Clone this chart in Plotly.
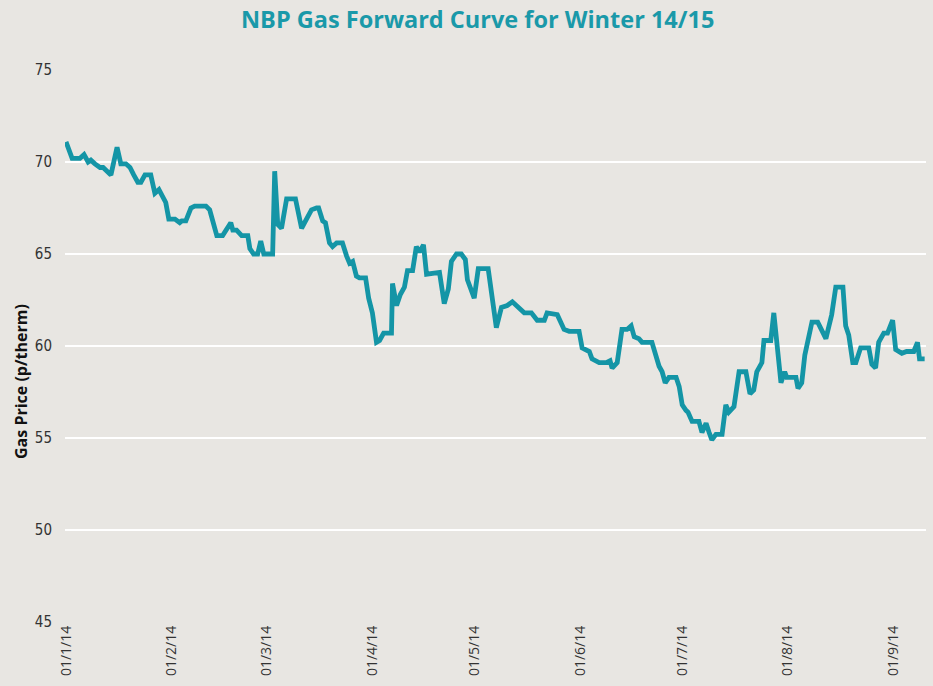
import pandas as pd
import plotly.graph_objects as go

# Days after 1 Jan 2014 at which each price was read
day_offset = [
    0.0, 1.8, 4.1, 5.3, 6.5, 7.3, 8.5, 10.0, 10.9, 12.0, 13.2, 15.0, 16.1, 17.6, 18.8,
    19.9, 21.1, 22.0, 23.2, 24.9, 26.1, 27.3, 28.7, 29.3, 30.2, 32.0, 33.4, 34.0, 35.2,
    36.7, 37.8, 41.1, 42.2, 44.3, 46.0, 48.4, 49.0, 50.1, 51.6, 53.4, 54.0, 55.1, 56.3,
    57.2, 58.1, 60.7, 61.3, 62.2, 63.3, 64.8, 65.7, 67.4, 69.2, 70.4, 71.0, 72.1, 73.6,
    74.2, 75.4, 76.2, 77.4, 78.3, 79.5, 81.2, 82.4, 83.3, 84.2, 85.3, 86.2, 88.0, 88.9,
    90.0, 91.2, 92.1, 93.3, 95.6, 95.9, 97.1, 98.2, 99.4, 100.3, 101.8, 102.9, 103.8,
    105.0, 105.9, 109.7, 111.1, 112.3, 113.2, 114.7, 116.1, 117.3, 117.9, 119.9, 121.1,
    124.0, 126.4, 127.9, 129.6, 131.1, 133.1, 134.6, 136.7, 138.4, 140.5, 141.3, 144.3,
    146.3, 147.8, 150.7, 151.6, 153.7, 154.5, 156.6, 158.7, 159.8, 160.4, 161.9, 163.3,
    164.8, 166.0, 166.9, 168.3, 169.2, 172.1, 173.3, 174.2, 175.1, 176.0, 177.1, 179.2,
    180.1, 181.0, 182.1, 182.7, 183.9, 185.9, 186.8, 188.0, 188.9, 189.7, 190.9, 192.7,
    193.8, 194.7, 196.2, 197.7, 199.7, 200.9, 202.0, 202.9, 204.4, 205.0, 207.0, 207.9,
    210.0, 211.1, 211.7, 214.4, 215.0, 216.1, 217.0, 217.9, 219.1, 220.8, 223.2, 224.9,
    226.1, 228.2, 229.0, 229.9, 231.1, 232.0, 233.4, 235.8, 236.7, 237.8, 238.7, 240.2,
    241.3, 242.8, 243.7, 245.5, 246.9, 249.0, 250.1, 250.7, 252.2,
]

# Gas price, p/therm
price = [
    71.1, 70.2, 70.2, 70.4, 70.0, 70.1, 69.9, 69.7, 69.7, 69.5, 69.3, 70.8, 69.9, 69.9, 69.7,
    69.3, 68.9, 68.9, 69.3, 69.3, 68.3, 68.5, 68.0, 67.8, 66.9, 66.9, 66.7, 66.8, 66.8,
    67.5, 67.6, 67.6, 67.4, 66.0, 66.0, 66.7, 66.3, 66.3, 66.0, 66.0, 65.3, 65.0, 65.0,
    65.7, 65.0, 65.0, 69.5, 66.6, 66.4, 68.0, 68.0, 68.0, 66.4, 66.8, 66.9, 67.4, 67.5,
    67.5, 66.8, 66.7, 65.6, 65.4, 65.6, 65.6, 64.9, 64.5, 64.6, 63.8, 63.7, 63.7, 62.6,
    61.8, 60.2, 60.3, 60.7, 60.7, 63.4, 62.2, 62.8, 63.2, 64.1, 64.1, 65.4, 65.1,
    65.5, 63.9, 64.0, 62.3, 63.1, 64.6, 65.0, 65.0, 64.7, 63.6, 62.6, 64.2,
    64.2, 61.0, 62.1, 62.2, 62.4, 62.1, 61.8, 61.8, 61.4, 61.4, 61.8, 61.7,
    60.9, 60.8, 60.8, 59.9, 59.7, 59.3, 59.1, 59.1, 59.2, 58.8, 59.1, 60.9,
    60.9, 61.1, 60.5, 60.4, 60.2, 60.2, 59.5, 58.9, 58.6, 58.0, 58.3, 58.3,
    57.8, 56.8, 56.5, 56.4, 55.9, 55.9, 55.3, 55.8, 55.3, 54.9, 55.2, 55.2,
    56.8, 56.4, 56.7, 58.6, 58.6, 57.4, 57.6, 58.6, 59.1, 60.3, 60.3, 61.8,
    58.0, 58.6, 58.3, 58.3, 57.7, 58.0, 59.5, 60.4, 61.3, 61.3, 60.4, 61.7,
    63.2, 63.2, 61.1, 60.6, 59.1, 59.1, 59.9, 59.9, 59.0, 58.8, 60.2, 60.7,
    60.7, 61.4, 59.8, 59.6, 59.7, 59.7, 60.2, 59.3, 59.3,
]

tick_dates = ["2014-01-01", "2014-02-01", "2014-03-01", "2014-04-01", "2014-05-01",
              "2014-06-01", "2014-07-01", "2014-08-01", "2014-09-01"]
tick_labels = ["01/1/14", "01/2/14", "01/3/14", "01/4/14", "01/5/14",
               "01/6/14", "01/7/14", "01/8/14", "01/9/14"]
y_ticks = [45, 50, 55, 60, 65, 70, 75]

start = pd.Timestamp("2014-01-01")
dates = [start + pd.to_timedelta(d, unit="D") for d in day_offset]

TEAL = "#1495a6"
BG = "#e8e6e2"
SANS = "Open Sans, Liberation Sans, sans-serif"
NARROW = "Liberation Sans Narrow, DejaVu Sans Condensed, Roboto, sans-serif"

fig = go.Figure()
fig.add_trace(go.Scatter(
    x=dates, y=price, mode="lines",
    line=dict(color=TEAL, width=4.8),
    hoverinfo="x+y", showlegend=False,
))

fig.update_layout(
    width=933, height=686,
    paper_bgcolor=BG, plot_bgcolor=BG,
    margin=dict(l=65, r=7, t=70, b=64, autoexpand=False),
    title=dict(
        text="<b>NBP Gas Forward Curve for Winter 14/15</b>",
        x=0.512, xanchor="center", xref="container",
        y=0.971, yanchor="middle", yref="container",
        font=dict(family=SANS, size=23.5, color="#1a99a9"),
    ),
    xaxis=dict(
        range=[start - pd.Timedelta(hours=7), start + pd.Timedelta(days=252.6)],
        tickvals=[pd.Timestamp(t) for t in tick_dates], ticktext=tick_labels,
        tickangle=-90, showgrid=False, zeroline=False, showline=False,
        ticks="", ticklen=0, automargin=False,
        tickfont=dict(family=SANS, size=14, color="#333333"),
    ),
    yaxis=dict(
        range=[45, 75], tickvals=y_ticks,
        showgrid=True, gridcolor="#ffffff", gridwidth=2,
        zeroline=False, showline=False, ticks="", ticklabelstandoff=12,
        automargin=False,
        tickfont=dict(family=NARROW, size=15, color="#333333"),
    ),
    annotations=[dict(
        text="<b>Gas Price (p/therm)</b>", textangle=-90,
        xref="paper", yref="paper", x=-0.051, y=0.435,
        xanchor="center", yanchor="middle", showarrow=False,
        font=dict(family=SANS, size=16, color="#111111"),
    )],
)

fig.write_html(
    "out.html",
    config={"displayModeBar": False},
    post_script="document.body.style.margin='0';document.body.style.overflow='hidden';",
)
